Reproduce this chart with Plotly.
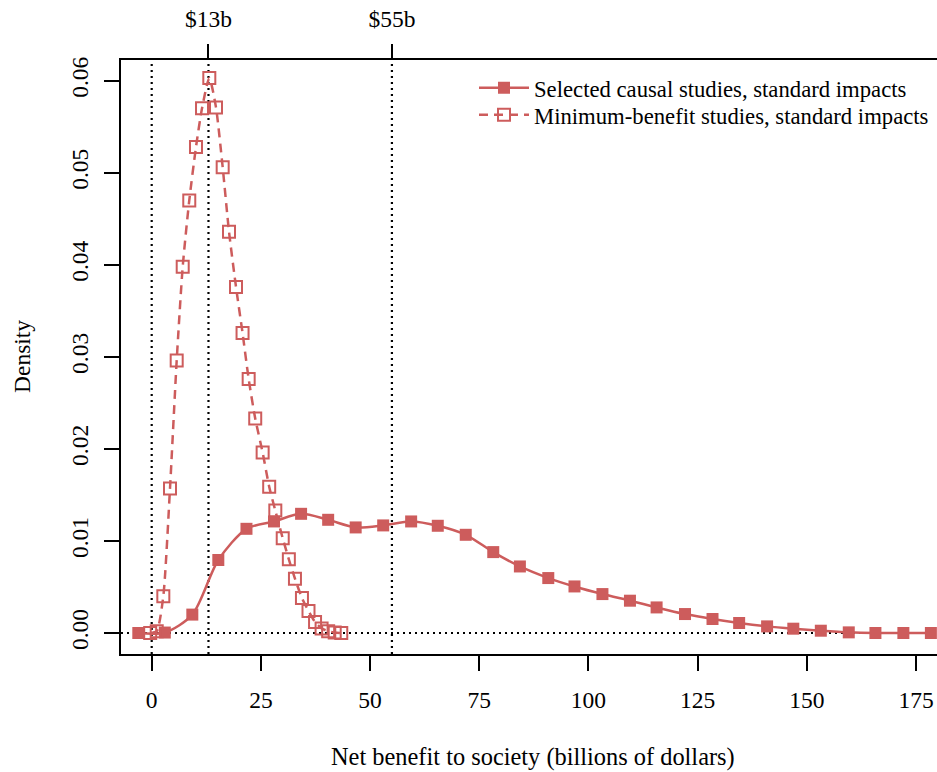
import plotly.graph_objects as go

# ---- data ----
selected_x = [-3.07, 3.0, 9.3, 15.25, 21.7, 28.0, 34.2, 40.4, 46.7, 53.0, 59.4, 65.5, 71.9,
              78.2, 84.3, 90.8, 96.8, 103.2, 109.5, 115.6, 122.1, 128.4, 134.5, 140.9,
              146.9, 153.2, 159.6, 165.7, 172.1, 178.4]
selected_y = [0.0, 0.00005, 0.0020, 0.00793, 0.01132, 0.01212, 0.01295, 0.0123, 0.01147,
              0.01169, 0.01212, 0.01165, 0.01067, 0.00879, 0.00723, 0.00597, 0.00506,
              0.00423, 0.00351, 0.00278, 0.00206, 0.00152, 0.00109, 0.00072, 0.00047,
              0.00025, 0.00007, 0.0, 0.0, 0.0]

minimum_x = [-0.35, 1.15, 2.66, 4.19, 5.72, 7.1, 8.6, 10.14, 11.52, 13.19, 14.72, 16.25,
             17.7, 19.3, 20.8, 22.2, 23.7, 25.4, 26.9, 28.3, 30.0, 31.4, 32.8, 34.4, 35.9,
             37.4, 38.9, 40.4, 41.9, 43.4]
minimum_y = [0.0, 0.0002, 0.0040, 0.0157, 0.0296, 0.0398, 0.0470, 0.0528, 0.0570, 0.0603,
             0.0571, 0.0506, 0.0436, 0.0376, 0.0326, 0.0276, 0.0233, 0.0196, 0.0159,
             0.0133, 0.0103, 0.0080, 0.0059, 0.0038, 0.0024, 0.0012, 0.0005, 0.0002,
             0.00005, 0.0]

series_names = ["Selected causal studies, standard impacts",
                "Minimum-benefit studies, standard impacts"]
x_ticks = [0, 25, 50, 75, 100, 125, 150, 175]
y_ticks = [0.00, 0.01, 0.02, 0.03, 0.04, 0.05, 0.06]
y_ticklabels = ["0.00", "0.01", "0.02", "0.03", "0.04", "0.05", "0.06"]
top_ticks = [13, 55]
top_ticklabels = ["$13b", "$55b"]
ref_vlines = [0, 13, 55]
ref_hline = 0

COLOR = "#CD5C5C"
FONT = "Liberation Serif"
FS = 23.5

fig = go.Figure()
fig.add_trace(go.Scatter(
    x=selected_x, y=selected_y, name=series_names[0], mode="lines+markers",
    line=dict(color=COLOR, width=2.5, shape="spline", smoothing=0.8),
    marker=dict(symbol="square", size=12, color=COLOR),
    legend="legend",
))
fig.add_trace(go.Scatter(
    x=minimum_x, y=minimum_y, name=series_names[1], mode="lines+markers",
    line=dict(color=COLOR, width=2.5, dash="9px,6px", shape="spline", smoothing=0.6),
    marker=dict(symbol="square-open", size=12, color=COLOR, line=dict(width=2, color=COLOR)),
    legend="legend2",
))
# invisible trace to activate top axis
fig.add_trace(go.Scatter(x=top_ticks, y=[None, None], xaxis="x2", showlegend=False,
                         hoverinfo="skip", mode="markers"))

for v in ref_vlines:
    fig.add_shape(type="line", xref="x", yref="paper", x0=v, x1=v, y0=0, y1=1,
                  line=dict(color="black", width=2.2, dash="2px,4px"), layer="below")
fig.add_shape(type="line", xref="paper", yref="y", x0=0, x1=1, y0=ref_hline, y1=ref_hline,
              line=dict(color="black", width=2.2, dash="2px,4px"), layer="below")

PL, PT, PW, PH = 121, 60, 816, 594
xr = [-7.03, 179.8]
LEG_FS = 22.7
leg_common = dict(xanchor="left", yanchor="middle", bgcolor="rgba(0,0,0,0)",
                  font=dict(family=FONT, size=LEG_FS), itemwidth=50)
fig.update_layout(
    width=937, height=772,
    margin=dict(l=PL, r=0, t=PT, b=772 - PT - PH),
    plot_bgcolor="white", paper_bgcolor="white",
    font=dict(family=FONT, size=FS, color="black"),
    showlegend=True,
    legend=dict(x=(474 - PL) / PW, y=(PT + PH - 88) / PH, **leg_common),
    legend2=dict(x=(474 - PL) / PW, y=(PT + PH - 115) / PH, **leg_common),
    xaxis=dict(range=xr, tickvals=x_ticks, ticks="outside", ticklen=15, tickwidth=2,
               tickcolor="black", showline=True, linecolor="black", linewidth=2,
               mirror=True, showgrid=False, zeroline=False,
               tickfont=dict(family=FONT, size=FS), ticklabelstandoff=9),
    xaxis2=dict(range=xr, overlaying="x", side="top", tickvals=top_ticks,
                ticktext=top_ticklabels, ticks="outside", ticklen=15, tickwidth=2,
                tickcolor="black", showline=False, showgrid=False, zeroline=False,
                tickfont=dict(family=FONT, size=FS), ticklabelstandoff=8),
    yaxis=dict(range=[-0.00228, 0.06225], tickvals=y_ticks, ticktext=y_ticklabels,
               ticks="outside", ticklen=15, tickwidth=2, tickcolor="black",
               showline=True, linecolor="black", linewidth=2, mirror=False,
               showgrid=False, zeroline=False, tickangle=-90,
               tickfont=dict(family=FONT, size=FS), ticklabelstandoff=7),
    annotations=[
        dict(text="Net benefit to society (billions of dollars)", xref="paper", yref="paper",
             x=(533 - PL) / PW, y=-(757 - PT - PH) / PH, xanchor="center", yanchor="middle",
             showarrow=False, font=dict(family=FONT, size=24.4)),
        dict(text="Density", xref="paper", yref="paper", x=-(PL - 22) / PW,
             y=0.5, xanchor="center", yanchor="middle", textangle=-90,
             showarrow=False, font=dict(family=FONT, size=FS)),
    ],
)

fig.write_html("out.html")
